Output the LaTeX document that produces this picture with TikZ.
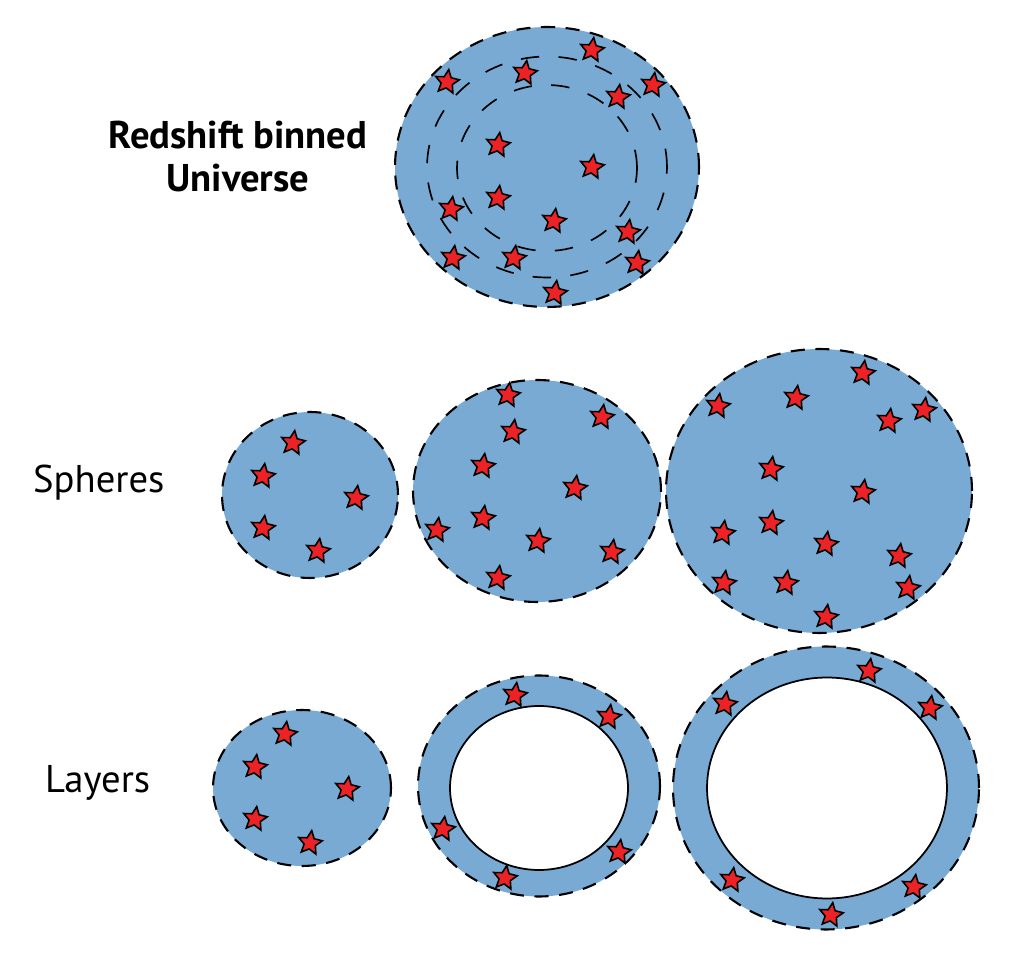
\documentclass[tikz,border=0pt]{standalone}
\usepackage{fontspec}
\setmainfont{PT Sans}
\usetikzlibrary{shapes.geometric}

\definecolor{shellblue}{HTML}{78AAD4}
\definecolor{starred}{HTML}{EC2227}

\begin{document}
\begin{tikzpicture}[x=0.02cm, y=-0.02cm,
		shell/.style={ellipse, draw, fill=shellblue, line width=1.2pt, dash pattern=on 8pt off 6pt, inner sep=0pt},
		bin/.style={ellipse, draw, line width=0.95pt, dash pattern=on 10.5pt off 11pt, inner sep=0pt},
		hole/.style={ellipse, draw, fill=white, line width=1pt, inner sep=0pt},
		galaxy/.style={star, star points=5, star point ratio=2.1, draw, fill=starred, line width=0.9pt, minimum size=0.5cm, inner sep=0pt, rotate=-8},
		rowtitle/.style={font=\fontsize{22}{25}\selectfont, anchor=base west}
		]
		\useasboundingbox (0,0) rectangle (1018,955);
		
		% =========================
		% Redshift binned universe
		% =========================
		\node[shell, minimum width=6.08cm, minimum height=5.6cm] (universe) at (547,167) {};
		\node[bin, minimum width=4.8cm, minimum height=4.42cm] (binout) at (547,167) {};
		\node[bin, minimum width=3.6cm, minimum height=3.32cm] (binin) at (547,168) {};
		\foreach \p [count=\i] in {(592,50),(447,82),(525,73),(618,97),(653,85),(498,145),(592,167),(498,198),(451,209),(554,221),(628,232),(453,258),(514,258),(637,263),(555,293)}
			\node[galaxy] (u\i) at \p {};
		
		\node[font=\bfseries\fontsize{22}{25}\selectfont, align=center, anchor=base] (title) at (238,192) {Redshift binned\\Universe};
		
		% =========================
		% Spheres
		% =========================
		\node[rowtitle] (spheres) at (27,493) {Spheres};
		
		\node[shell, minimum width=3.52cm, minimum height=3.32cm] (sphA) at (310,495) {};
		\node[shell, minimum width=4.96cm, minimum height=4.44cm] (sphB) at (537,491) {};
		\node[shell, minimum width=6.12cm, minimum height=5.68cm] (sphC) at (819,491) {};
		
		\foreach \p [count=\i] in {(293,443),(263,476),(356,498),(263,528),(318,551)}
			\node[galaxy] (sa\i) at \p {};
		\foreach \p [count=\i] in {(508,395),(602,417),(513,432),(483,466),(575,488),(437,530),(483,518),(538,541),(612,552),(498,578)}
			\node[galaxy] (sb\i) at \p {};
		\foreach \p [count=\i] in {(863,373),(718,406),(796,398),(889,421),(924,410),(771,469),(863,492),(723,533),(771,523),(826,544),(899,556),(724,583),(786,583),(908,588),(826,617)}
			\node[galaxy] (sc\i) at \p {};
		
		% =========================
		% Layers
		% =========================
		\node[rowtitle] (layers) at (39,793) {Layers};
		
		\node[shell, minimum width=3.56cm, minimum height=3.12cm] (layA) at (302,788) {};
		\node[shell, minimum width=4.84cm, minimum height=4.42cm] (layB) at (539,786) {};
		\node[hole, minimum width=3.56cm, minimum height=3.28cm] (holeB) at (539,788) {};
		\node[shell, minimum width=6.12cm, minimum height=5.66cm] (layC) at (826,788) {};
		\node[hole, minimum width=4.8cm, minimum height=4.42cm] (holeC) at (827,788) {};
		
		\foreach \p [count=\i] in {(285,734),(255,767),(347,789),(255,819),(310,843)}
			\node[galaxy] (la\i) at \p {};
		\foreach \p [count=\i] in {(515,695),(609,717),(443,829),(619,852),(505,878)}
			\node[galaxy] (lb\i) at \p {};
		\foreach \p [count=\i] in {(869,671),(725,704),(930,708),(732,880),(914,887),(831,915)}
			\node[galaxy] (lc\i) at \p {};
		
	\end{tikzpicture}
\end{document}
